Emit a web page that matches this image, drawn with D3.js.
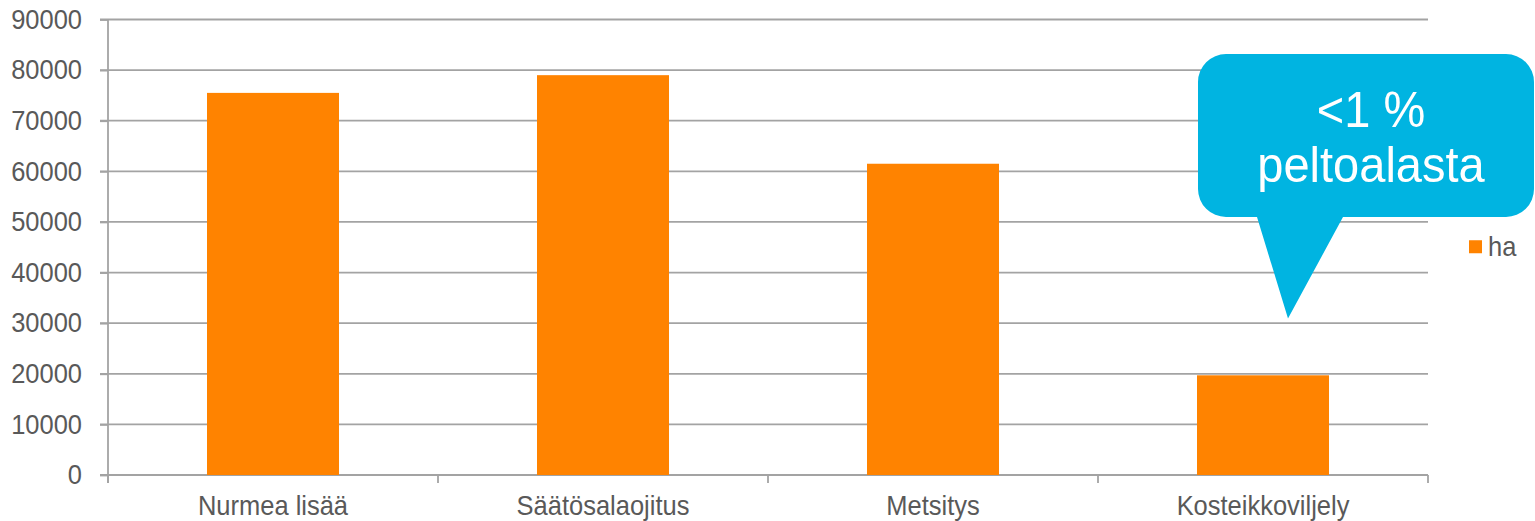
<!DOCTYPE html>
<html>
<head>
<meta charset="utf-8">
<script src="https://cdn.jsdelivr.net/npm/d3@7"></script>
<style>
  body { margin: 0; background: #fff; }
  text { font-family: Arial, "Liberation Sans", sans-serif; }
</style>
</head>
<body>
<div id="chart"></div>
<script>
// Data
const categories = ["Nurmea lisää", "Säätösalaojitus", "Metsitys", "Kosteikkoviljely"];
const haValues = [75500, 79000, 61500, 19700];
const yTicks = [0, 10000, 20000, 30000, 40000, 50000, 60000, 70000, 80000, 90000];
const seriesName = "ha";
const calloutLines = ["<1 %", "peltoalasta"];

const width = 1535, height = 521;
const margin = { top: 19.5, bottom: 46, left: 108, right: 107 };
const textColor = "#595959";
const gridColor = "#a3a3a3";
const barColor = "#ff8300";
const calloutColor = "#00b4e1";
const stretch = 1.08; // text in the original is slightly taller than wide

const svg = d3.select("#chart")
    .append("svg")
    .attr("width", width)
    .attr("height", height);

// Scales
const xScale = d3.scaleBand()
    .domain(categories)
    .range([margin.left, width - margin.right])
    .padding(0);

const yScale = d3.scaleLinear()
    .domain([0, 90000])
    .range([height - margin.bottom, margin.top]);

// Gridlines
svg.append("g")
    .selectAll("line")
    .data(yTicks)
    .enter().append("line")
    .attr("x1", margin.left - 8)
    .attr("x2", width - margin.right)
    .attr("y1", d => yScale(d))
    .attr("y2", d => yScale(d))
    .attr("stroke", gridColor)
    .attr("stroke-width", 1.8);

// Y axis
const yAxis = svg.append("g")
    .attr("transform", `translate(${margin.left},0)`)
    .call(d3.axisLeft(yScale).tickValues(yTicks).tickSize(8).tickPadding(18).tickFormat(d3.format("d")));
yAxis.select(".domain")
    .attr("d", `M0,${margin.top}V${height - margin.bottom + 8}`)
    .attr("stroke", gridColor)
    .attr("stroke-width", 1.8);
yAxis.selectAll(".tick line").attr("stroke", gridColor).attr("stroke-width", 1.8);
yAxis.selectAll(".tick text")
    .attr("fill", textColor)
    .attr("transform", `scale(1,${stretch})`)
    .style("font-size", "25.5px");

// X axis with ticks between categories
const xAxisG = svg.append("g")
    .attr("transform", `translate(0,${yScale(0)})`);
xAxisG.append("line")
    .attr("x1", margin.left)
    .attr("x2", width - margin.right)
    .attr("stroke", gridColor)
    .attr("stroke-width", 1.8);
const boundaries = categories.map(c => xScale(c)).concat([xScale(categories[categories.length - 1]) + xScale.bandwidth()]);
xAxisG.selectAll(".xtick")
    .data(boundaries)
    .enter().append("line")
    .attr("x1", d => d)
    .attr("x2", d => d)
    .attr("y1", 0)
    .attr("y2", 8)
    .attr("stroke", gridColor)
    .attr("stroke-width", 1.8);
xAxisG.selectAll(".xlabel")
    .data(categories)
    .enter().append("text")
    .attr("transform", d => `translate(${xScale(d) + xScale.bandwidth() / 2},40) scale(1,${stretch})`)
    .attr("text-anchor", "middle")
    .attr("fill", textColor)
    .style("font-size", "25.5px")
    .text(d => d);

// Bars
const barW = xScale.bandwidth() * 0.4;
svg.append("g")
    .selectAll("rect")
    .data(haValues)
    .enter().append("rect")
    .attr("x", (d, i) => xScale(categories[i]) + (xScale.bandwidth() - barW) / 2)
    .attr("y", d => yScale(d))
    .attr("width", barW)
    .attr("height", d => yScale(0) - yScale(d))
    .attr("fill", barColor);

// Legend
const legend = svg.append("g")
    .attr("transform", `translate(${width - 66},${yScale(45000)})`);
legend.append("rect")
    .attr("x", 0)
    .attr("y", -7)
    .attr("width", 13)
    .attr("height", 13)
    .attr("fill", barColor);
legend.append("text")
    .attr("transform", `translate(19,8.5) scale(1,${stretch})`)
    .attr("fill", textColor)
    .style("font-size", "25.5px")
    .text(seriesName);

// Callout bubble pointing at the last bar
const lastCat = categories[categories.length - 1];
const tipX = xScale(lastCat) + xScale.bandwidth() / 2 + 25;
const tipY = yScale(30900);
const bx0 = 1198, bx1 = 1534, by0 = 54, by1 = 217, r = 28;
const tail0 = tipX - 31, tail1 = tipX + 55;
const bubble = d3.path();
bubble.moveTo(bx0 + r, by0);
bubble.lineTo(bx1 - r, by0);
bubble.arcTo(bx1, by0, bx1, by0 + r, r);
bubble.lineTo(bx1, by1 - r);
bubble.arcTo(bx1, by1, bx1 - r, by1, r);
bubble.lineTo(tail1, by1);
bubble.lineTo(tipX, tipY);
bubble.lineTo(tail0, by1);
bubble.lineTo(bx0 + r, by1);
bubble.arcTo(bx0, by1, bx0, by1 - r, r);
bubble.lineTo(bx0, by0 + r);
bubble.arcTo(bx0, by0, bx0 + r, by0, r);
bubble.closePath();
svg.append("path")
    .attr("d", bubble.toString())
    .attr("fill", calloutColor);

svg.selectAll(".callout")
    .data(calloutLines)
    .enter().append("text")
    .attr("transform", (d, i) => `translate(1371,${127 + i * 55}) scale(1,${stretch})`)
    .attr("text-anchor", "middle")
    .attr("fill", "#ffffff")
    .style("font-size", "47px")
    .text(d => d);
</script>
</body>
</html>
